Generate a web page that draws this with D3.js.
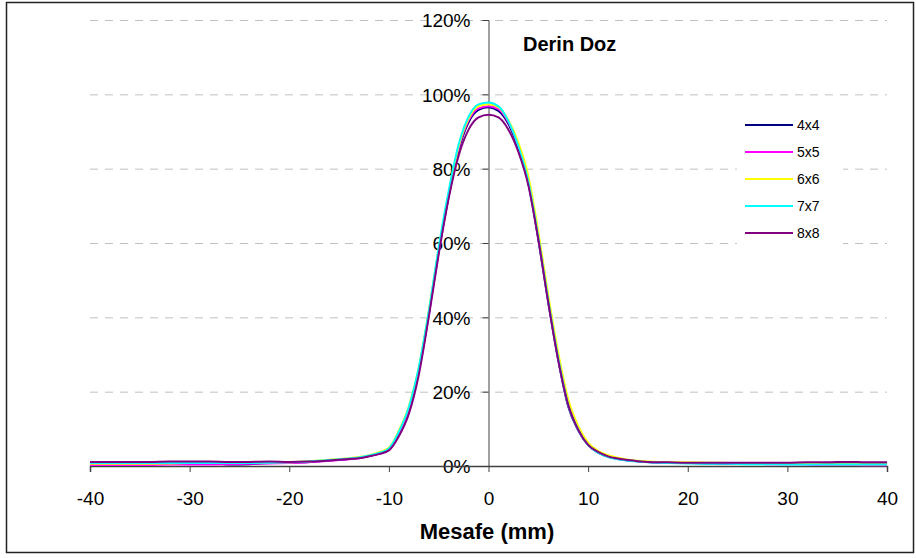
<!DOCTYPE html>
<html><head><meta charset="utf-8">
<script src="https://cdn.jsdelivr.net/npm/d3@7"></script>
<style>body{margin:0;background:#fff}svg{display:block;font-family:"Liberation Sans",Arial,sans-serif}</style>
</head><body><svg id="c" width="916" height="558"></svg>
<script>
const distances = [-40,-38,-36,-34,-32,-30,-28,-26,-24,-22,-20,-18,-16,
  -15,-14,-13,-12,-11,-10,-9,-8,-7,-6,-5,-4,-3,-2,-1,0,1,2,3,4,5,6,7,8,9,10,11,12,13,14,15,
  16,18,20,22,24,26,28,30,32,34,36,38,40];
const s4x4 = [1.0,1.0,1.0,1.0,1.0,1.0,0.8,0.4,0.5,0.8,0.9,1.1,1.5,
  1.7,1.9,2.2,2.7,3.4,4.5,8.8,15.5,26,41,58,72.5,85,92.5,95.8,96.5,95.5,92,85.5,76,61,44,28.5,16,9.6,5.6,3.6,2.5,1.9,1.5,1.3,
  1.1,0.9,0.8,0.7,0.6,0.6,0.7,0.8,0.7,0.8,0.9,0.8,0.8];
const s5x5 = [0.3,0.3,0.3,0.3,0.4,0.4,0.4,0.5,0.6,0.7,0.8,1.0,1.4,
  1.6,1.8,2.1,2.6,3.3,4.3,8.4,14.8,25.5,40.5,57.5,72.5,85.5,93,96.2,96.8,96,92.5,86,76.5,61.5,44.5,29,16.5,9.9,5.7,3.7,2.5,1.9,1.5,1.3,
  1.1,0.9,0.8,0.8,0.7,0.6,0.5,0.5,0.4,0.3,0.3,0.2,0.2];
const s6x6 = [0.6,0.6,0.6,0.6,0.7,0.8,0.9,1.0,0.9,1.0,1.0,1.3,1.7,
  1.9,2.1,2.4,2.9,3.7,4.9,9.5,16,26.5,41.5,58.5,73.5,86,93.5,96.8,97.3,96.5,93,87,78,63,46,30.5,18,10.8,6.3,4.1,2.9,2.2,1.7,1.4,
  1.2,1.0,1.0,0.9,0.8,0.7,0.6,0.6,0.6,0.5,0.5,0.5,0.5];
const s7x7 = [0.8,0.8,0.8,0.8,0.8,0.8,0.8,0.8,0.8,0.9,1.0,1.2,1.6,
  1.8,2.0,2.3,2.8,3.5,4.7,9.2,15.8,26.5,41.5,58.8,74,86.5,94,97.3,97.8,96.8,92.8,86,76.5,61.5,44.5,29,16.5,9.8,5.6,3.6,2.4,1.8,1.4,1.2,
  1.0,0.8,0.7,0.6,0.6,0.5,0.5,0.4,0.4,0.4,0.4,0.4,0.4];
const s8x8 = [1.1,1.1,1.1,1.1,1.2,1.2,1.2,1.1,1.1,1.2,1.1,1.2,1.5,
  1.7,1.9,2.1,2.6,3.2,4.2,8.0,14,24.5,40,57,72,83.5,90.5,93.8,94.5,93.8,90.5,84.5,75.5,61,44,28.5,16.5,9.8,5.7,3.8,2.6,2.0,1.6,1.3,
  1.1,1.0,0.9,0.9,0.9,0.9,0.9,0.9,1.0,1.0,1.1,1.0,1.0];
const seriesNames = ["4x4","5x5","6x6","7x7","8x8"];
const seriesColors = ["#000080","#FF00FF","#FFFF00","#00FFFF","#800080"];
const seriesValues = [s4x4,s5x5,s6x6,s7x7,s8x8];
const xTicks = [-40,-30,-20,-10,0,10,20,30,40];
const yTicks = [0,20,40,60,80,100,120];
const chartTitle = "Derin Doz";
const xTitle = "Mesafe (mm)";

const svg = d3.select("#c");
svg.append("rect").attr("x",6.5).attr("y",2.5).attr("width",907).attr("height",550)
  .attr("fill","#fff").attr("stroke","#222").attr("stroke-width",1.5);

const x = d3.scaleLinear().domain([-40,40]).range([90,887]);
const y = d3.scaleLinear().domain([0,120]).range([466,20]);

// grid
svg.append("g").selectAll("line").data(yTicks.filter(d=>d>0)).join("line")
  .attr("x1",x(-40)).attr("x2",x(40)).attr("y1",d=>y(d)+0.5).attr("y2",d=>y(d)+0.5)
  .attr("stroke","#c0c0c0").attr("stroke-dasharray","8,7");

// y axis at x=0
const yAxis = svg.append("g").attr("transform",`translate(${x(0)},0)`)
  .call(d3.axisLeft(y).tickValues(yTicks).tickSize(6).tickPadding(12).tickFormat(d=>d+"%"));
yAxis.select(".domain").attr("stroke","#404040");
yAxis.selectAll(".tick line").attr("stroke","#404040");
yAxis.selectAll("text").attr("font-size",19).attr("fill","#000").attr("font-family","Liberation Sans, Arial").attr("dy","0.36em");

// x axis at y=0
const xAxis = svg.append("g").attr("transform",`translate(0,${y(0)})`)
  .call(d3.axisBottom(x).tickValues(xTicks).tickSize(6).tickPadding(20).tickFormat(d=>String(d)));
xAxis.select(".domain").attr("stroke","#404040").attr("stroke-width",1.5);
xAxis.selectAll(".tick line").attr("stroke","#404040");
xAxis.selectAll("text").attr("font-size",19).attr("fill","#000").attr("font-family","Liberation Sans, Arial");

// lines
const line = d3.line().x((d,i)=>x(distances[i])).y(d=>y(d)).curve(d3.curveMonotoneX);
seriesValues.forEach((vals,k)=>{
  svg.append("path").datum(vals).attr("d",line).attr("fill","none")
    .attr("stroke",seriesColors[k]).attr("stroke-width",2).attr("stroke-linejoin","round");
});

// titles
svg.append("text").attr("x",523).attr("y",51).attr("font-size",20).attr("font-weight","bold").text(chartTitle);
svg.append("text").attr("x",487).attr("y",539).attr("text-anchor","middle").attr("font-size",22).attr("font-weight","bold").text(xTitle);

// legend
const lg = svg.append("g");
lg.append("rect").attr("x",737).attr("y",110).attr("width",106).attr("height",137).attr("fill","#fff");
seriesNames.forEach((n,k)=>{
  const yy = 125 + k*27;
  lg.append("line").attr("x1",745).attr("x2",793).attr("y1",yy).attr("y2",yy)
    .attr("stroke",seriesColors[k]).attr("stroke-width",2);
  lg.append("text").attr("x",797).attr("y",yy+5).attr("font-size",14).text(n);
});
</script></body></html>
